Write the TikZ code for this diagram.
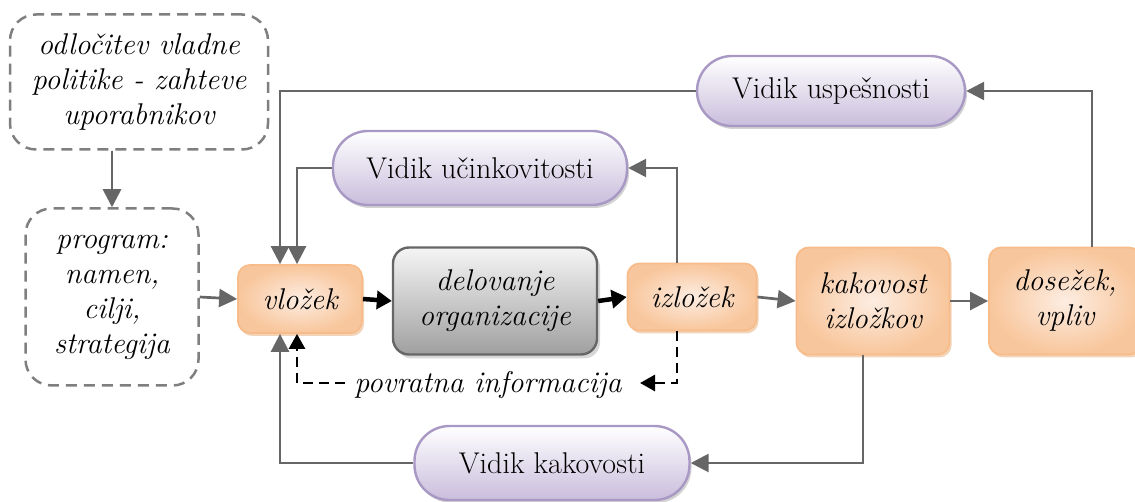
\documentclass[tikz,border=0pt]{standalone}
\usetikzlibrary{arrows.meta,shadows}
\definecolor{lgray}{HTML}{666666}
\definecolor{dgray}{HTML}{7F7F7F}
\definecolor{orb}{HTML}{F7BC8A}
\definecolor{orl}{HTML}{FDEDE2}
\definecolor{pub}{HTML}{A898C4}
\definecolor{pul}{HTML}{C9BDDC}
\tikzset{
  txt/.style={font=\fontsize{30}{35}\selectfont\itshape, align=center, text=black},
  dashbox/.style={txt, draw=dgray, line width=2.5pt, dash pattern=on 11pt off 7pt, rounded corners=26pt},
  orbox/.style={txt, draw=orb, line width=1.8pt, rounded corners=12pt, inner color=orl, outer color=orb!85,
     drop shadow={shadow xshift=2pt, shadow yshift=-3pt, fill=orb!70!brown, opacity=0.5}},
  graybox/.style={txt, draw=lgray, line width=2.4pt, rounded corners=16pt, top color=gray!8, bottom color=gray!75,
     drop shadow={shadow xshift=3pt, shadow yshift=-4pt, fill=gray!60, opacity=0.5}},
  vidik/.style={font=\fontsize{30}{35}\selectfont, text=black, draw=pub, line width=2.4pt, rounded corners=35pt,
     top color=white, bottom color=pul,
     drop shadow={shadow xshift=2pt, shadow yshift=-3pt, fill=gray!70, opacity=0.5}},
  garrow/.style={draw=lgray, line width=2.7pt, -{Triangle[length=18pt,width=18pt]}},
  barrow/.style={draw=black, line width=4.5pt, -{Triangle[length=15pt,width=18pt]}},
  darrow/.style={draw=black, line width=2.8pt, dash pattern=on 10pt off 6pt, -{Triangle[length=15pt,width=16pt]}},
}
\begin{document}
\begin{tikzpicture}[x=1pt,y=-1pt]
\useasboundingbox (0,0) rectangle (1135,502);
\node[dashbox, minimum width=258pt, minimum height=135pt] (d1) at (139,82) {odločitev vladne\\politike - zahteve\\uporabnikov};
\node[dashbox, minimum width=173pt, minimum height=177pt] (prog) at (112,297) {program:\\namen,\\cilji,\\strategija};
\node[orbox, minimum width=124pt, minimum height=68pt] (vl) at (300,299) {vložek};
\node[graybox, minimum width=204pt, minimum height=107pt] (del) at (495,301) {delovanje\\organizacije};
\node[orbox, minimum width=129pt, minimum height=67pt] (iz) at (692,297) {izložek};
\node[orbox, minimum width=153pt, minimum height=107pt] (kak) at (873,301) {kakovost\\izložkov};
\node[orbox, minimum width=152pt, minimum height=107pt] (dos) at (1065,301) {dosežek,\\vpliv};
\node[vidik, minimum width=268pt, minimum height=70pt] (vu) at (831,91) {Vidik uspešnosti};
\node[vidik, minimum width=294pt, minimum height=74pt] (vc) at (480,168) {Vidik učinkovitosti};
\node[vidik, minimum width=275pt, minimum height=74pt] (vk) at (552,463) {Vidik kakovosti};
\node[txt] (fb) at (488,385) {povratna informacija};
\coordinate (fbR) at (640,383);
\coordinate (fbL) at (345,383);

\draw[garrow] (prog.north |- d1.south) -- (prog.north);
\draw[garrow] (prog.east) -- (vl.west);
\draw[barrow] (vl.east) -- (del.west);
\draw[barrow] (del.east) -- (iz.west);
\draw[garrow] (iz.east) -- (kak.west);
\draw[garrow] (kak.east) -- (dos.west);
\draw[garrow] ([xshift=27pt]dos.north) |- (vu.east);
\draw[garrow] (vu.west) -| ([xshift=-20pt]vl.north);
\draw[garrow] ([xshift=-15pt]iz.north) |- (vc.east);
\draw[garrow] (vc.west) -| ([xshift=-3pt]vl.north);
\draw[garrow] ([xshift=-10pt]kak.south) |- (vk.east);
\draw[garrow] (vk.west) -| ([xshift=-20pt]vl.south);
\draw[darrow] ([xshift=-15pt]iz.south) |- (fbR);
\draw[darrow] (fbL) -| ([xshift=-3pt]vl.south);
\end{tikzpicture}
\end{document}
